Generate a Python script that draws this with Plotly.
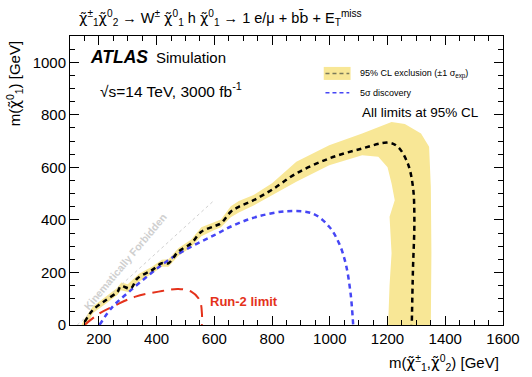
import plotly.graph_objects as go

# ---- data (GeV) ----
exp_x = [151, 179, 225, 265, 276, 310, 333, 384, 418, 441, 475, 520, 555, 600, 623, 657, 685, 736, 800, 884, 998, 1112, 1202, 1236, 1270, 1288, 1293, 1288, 1284]
exp_y = [12, 57, 95, 127, 148, 139, 177, 209, 235, 235, 279, 311, 355, 376, 387, 431, 450, 475, 515, 577, 634, 672, 694, 678, 615, 526, 399, 209, 0]

band_up_x = [140, 148, 179, 225, 262, 278, 300, 339, 384, 418, 441, 475, 520, 555, 600, 623, 657, 685, 736, 800, 884, 998, 1112, 1214, 1260, 1316, 1344, 1350, 1352, 1350]
band_up_y = [0, 20, 70, 108, 140, 162, 155, 195, 222, 248, 250, 292, 325, 372, 390, 402, 452, 472, 495, 540, 621, 684, 729, 773, 765, 729, 678, 526, 273, 0]
band_lo_x = [160, 179, 225, 265, 276, 305, 333, 384, 418, 441, 475, 520, 555, 600, 623, 657, 685, 736, 800, 884, 998, 1112, 1168, 1200, 1214, 1225, 1207, 1214, 1207, 1202]
band_lo_y = [0, 45, 82, 115, 132, 125, 162, 195, 222, 222, 263, 297, 338, 362, 372, 410, 428, 455, 495, 545, 608, 646, 640, 600, 539, 475, 412, 273, 150, 0]

disc_x = [202, 248, 305, 373, 441, 520, 600, 668, 748, 852, 941, 998, 1032, 1055, 1072, 1081]
disc_y = [0, 70, 127, 190, 247, 298, 342, 380, 412, 433, 424, 374, 311, 234, 120, 0]

run2_x = [150, 202, 259, 327, 407, 475, 520, 549, 557, 557]
run2_y = [0, 44, 76, 108, 127, 137, 127, 95, 44, 0]

kin_x = [125, 600]
kin_y = [0, 475]

x_ticks = [200, 400, 600, 800, 1000, 1200, 1400, 1600]
y_ticks = [0, 200, 400, 600, 800, 1000]

FONT = "Liberation Sans, Arial, Helvetica, sans-serif"
YELLOW = "#f8e796"
BLUE = "#4646f5"
RED = "#e4321b"
CHI = '<span style="font-family:DejaVu Sans">χ̃</span>'
BBAR = '<span style="font-family:DejaVu Sans">b̄</span>'

fig = go.Figure()

poly_x = band_up_x + band_lo_x[::-1]
poly_y = band_up_y + band_lo_y[::-1]
fig.add_trace(go.Scatter(x=poly_x, y=poly_y, fill="toself", fillcolor=YELLOW,
                         line=dict(width=0), mode="lines", hoverinfo="skip", showlegend=False))
fig.add_trace(go.Scatter(x=kin_x, y=kin_y, mode="lines",
                         line=dict(color="#d0d0d0", width=1, dash="3px,3px"), showlegend=False))
fig.add_trace(go.Scatter(x=run2_x, y=run2_y, mode="lines", line_shape="spline",
                         line=dict(color=RED, width=2, dash="12px,7px"), showlegend=False))
fig.add_trace(go.Scatter(x=disc_x, y=disc_y, mode="lines", line_shape="spline",
                         line=dict(color=BLUE, width=2.5, dash="5px,4px"), showlegend=False))
fig.add_trace(go.Scatter(x=exp_x, y=exp_y, mode="lines", line_shape="spline",
                         line=dict(color="black", width=2.5, dash="5px,4px"), showlegend=False))

axis_common = dict(showgrid=False, zeroline=False, showline=True, linecolor="black", linewidth=1,
                   mirror="allticks", ticks="inside", ticklen=9, tickcolor="black",
                   tickfont=dict(family=FONT, size=15, color="black"),
                   minor=dict(ticks="inside", ticklen=5, dtick=50, tickcolor="black"))

fig.update_xaxes(range=[100, 1600], tickvals=x_ticks, **axis_common)
fig.update_yaxes(range=[0, 1100], tickvals=y_ticks, **axis_common)

ann = []
ann.append(dict(x=0.016, y=1.062, xref="paper", yref="paper", xanchor="left", yanchor="middle",
                text=f"{CHI}<sup>±</sup><sub>1</sub>{CHI}<sup>0</sup><sub>2</sub> → W<sup>±</sup> {CHI}<sup>0</sup><sub>1</sub> h {CHI}<sup>0</sup><sub>1</sub> → 1 e/μ + b{BBAR} + E<sub>T</sub><sup>miss</sup>",
                font=dict(family=FONT, size=14.5, color="black"), showarrow=False))
ann.append(dict(x=0.041, y=0.927, xref="paper", yref="paper", xanchor="left", yanchor="middle",
                text="<b><i>ATLAS</i></b>", font=dict(family=FONT, size=17.5, color="black"), showarrow=False))
ann.append(dict(x=0.195, y=0.927, xref="paper", yref="paper", xanchor="left", yanchor="middle",
                text="Simulation", font=dict(family=FONT, size=15, color="black"), showarrow=False))
ann.append(dict(x=0.064, y=0.813, xref="paper", yref="paper", xanchor="left", yanchor="middle",
                text="√s=14 TeV, 3000 fb<sup>-1</sup>", font=dict(family=FONT, size=15.5, color="black"), showarrow=False))
ann.append(dict(x=0.664, y=0.870, xref="paper", yref="paper", xanchor="left", yanchor="middle",
                text="95% CL exclusion (±1 σ<sub>exp</sub>)", font=dict(family=FONT, size=9, color="black"), showarrow=False))
ann.append(dict(x=0.664, y=0.804, xref="paper", yref="paper", xanchor="left", yanchor="middle",
                text="5σ discovery", font=dict(family=FONT, size=9, color="black"), showarrow=False))
ann.append(dict(x=0.670, y=0.737, xref="paper", yref="paper", xanchor="left", yanchor="middle",
                text="All limits at 95% CL", font=dict(family=FONT, size=13.5, color="black"), showarrow=False))
ann.append(dict(x=703, y=91, xref="x", yref="y", xanchor="center", yanchor="middle",
                text="<b>Run-2 limit</b>", font=dict(family=FONT, size=13, color=RED), showarrow=False))
ann.append(dict(x=289, y=241, xref="x", yref="y", xanchor="center", yanchor="middle", textangle=-50,
                text="<b>Kinematically Forbidden</b>", font=dict(family=FONT, size=10.5, color="#cfcfcf"), showarrow=False))
ann.append(dict(x=0.995, y=-0.13, xref="paper", yref="paper", xanchor="right", yanchor="middle",
                text=f"m({CHI}<sup>±</sup><sub>1</sub>,{CHI}<sup>0</sup><sub>2</sub>) [GeV]",
                font=dict(family=FONT, size=15, color="black"), showarrow=False))
ann.append(dict(x=-0.128, y=0.835, xref="paper", yref="paper", xanchor="center", yanchor="middle", textangle=-90,
                text=f"m({CHI}<sup>0</sup><sub>1</sub>) [GeV]",
                font=dict(family=FONT, size=15, color="black"), showarrow=False))

shapes = [
    dict(type="rect", xref="paper", yref="paper", x0=0.586, x1=0.648, y0=0.848, y1=0.893,
         fillcolor=YELLOW, line=dict(width=0)),
    dict(type="line", xref="paper", yref="paper", x0=0.590, x1=0.645, y0=0.870, y1=0.870,
         line=dict(color="#7a7a5a", width=1.5, dash="4px,3px")),
    dict(type="line", xref="paper", yref="paper", x0=0.590, x1=0.645, y0=0.804, y1=0.804,
         line=dict(color=BLUE, width=1.5, dash="4px,3px")),
]

fig.update_layout(width=532, height=377, margin=dict(l=70, r=22, t=36, b=52),
                  paper_bgcolor="white", plot_bgcolor="white",
                  annotations=ann, shapes=shapes, showlegend=False,
                  font=dict(family=FONT))

# remove the default 8px page margin so the figure fills the window exactly
fig.write_html("out.html", config={"displayModeBar": False},
               post_script="document.body.style.margin='0';")
